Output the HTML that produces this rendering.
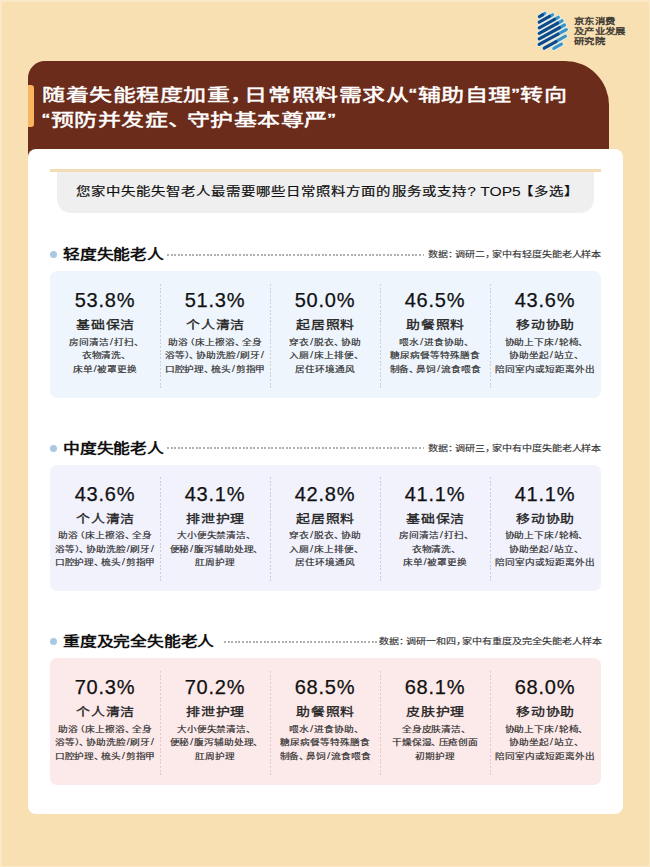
<!DOCTYPE html>
<html lang="zh-CN"><head><meta charset="utf-8"><style>
*{margin:0;padding:0;box-sizing:border-box}
html,body{width:650px;height:867px;overflow:hidden}
body{background:#F8E0B3;font-family:"Liberation Sans",sans-serif;position:relative;color:#222}
.logo{position:absolute;left:536px;top:10px;width:34px;height:42px}
.logo svg{display:block}
.logotxt{position:absolute;left:574px;top:16.5px;font-size:8px;line-height:10.4px;letter-spacing:-0.1px;color:#3a3530;font-weight:normal;white-space:nowrap;transform:scaleX(1.3);transform-origin:0 0;-webkit-text-stroke:0.35px #3a3530}
.hdr{position:absolute;left:28px;top:60.5px;width:581px;height:110px;background:#6B2C1B;border-radius:17px 44px 0 0}
.bar{position:absolute;left:28px;top:85px;width:5.6px;height:42.4px;background:#F9B462;border-radius:0 3px 3px 0}
.title{position:absolute;left:42px;top:83px;color:#fff;font-size:17.3px;line-height:25px;font-weight:normal;white-space:nowrap;transform:scaleX(1.33);transform-origin:0 0;letter-spacing:0.68px;-webkit-text-stroke:0.45px #fff}
.card{position:absolute;left:28px;top:149px;width:595px;height:665px;background:#fff;border-radius:8px}
.qline{position:absolute;left:50px;top:169px;width:551px;height:3px;background:#F3DCB4}
.qbox{position:absolute;left:57px;top:172px;width:537px;height:41px;background:#EFEFEF;border-radius:0 0 14px 14px}
.qtxt{position:absolute;left:76px;top:183.5px;font-size:12px;line-height:16px;color:#111;white-space:nowrap;transform:scaleX(1.2);transform-origin:0 0;letter-spacing:0.52px;font-weight:normal;-webkit-text-stroke:0.2px #111}
.sec{position:absolute;left:0;width:650px;height:200px}
.dot{position:absolute;left:50px;top:251px;width:7px;height:7px;border-radius:50%;background:#A9C9E2}
.stitle{position:absolute;left:63px;top:244px;font-size:14px;line-height:20px;font-weight:bold;color:#111;white-space:nowrap;transform:scaleX(1.2);transform-origin:0 0}
.dots{position:absolute;left:167px;right:226px;top:253.5px;border-top:1px dashed #C9C9C9}
.pink .dots{left:224px;right:269px}
.ssrc{position:absolute;right:48.5px;top:248px;font-size:8.4px;line-height:12px;color:#333;white-space:nowrap;transform:scaleX(1.2);transform-origin:100% 0;letter-spacing:0.3px;-webkit-text-stroke:0.15px #333}
.panel{position:absolute;left:50px;top:271.3px;width:551px;height:126.4px;border-radius:7px}
.blue .panel{background:#EFF5FC}
.lav .panel{background:#F2F2FD}
.pink .panel{background:#FCE9E9}
.div{position:absolute;top:12.5px;height:104px;width:1px;border-left:0}
.pink .div{border-left-color:#E9C3C3}
.lav .div{border-left-color:#CACAE0}
.col{position:absolute;top:0;width:110px;height:124px;text-align:center}
.c0{left:0}.c1{left:110px}.c2{left:220px}.c3{left:330px}.c4{left:440px}
.pct{position:absolute;left:0;right:0;top:17px;font-size:20px;line-height:24px;color:#111;letter-spacing:0.8px;-webkit-text-stroke:0.25px #111}
.lab{position:absolute;left:0;right:0;top:46px;font-size:11.4px;line-height:16px;font-weight:normal;color:#222;transform:scaleX(1.22);letter-spacing:1px;padding-left:1px;-webkit-text-stroke:0.3px #222}
.desc{position:absolute;left:-5px;right:-5px;top:64.5px;font-size:7.8px;line-height:13.5px;color:#303030;white-space:nowrap;transform:scaleX(1.24);font-weight:normal;-webkit-text-stroke:0.18px #303030}
.tp{letter-spacing:0;font-size:13px;font-weight:normal;margin-left:0.5px;-webkit-text-stroke:0}
.dots{border:0;height:2px;background:repeating-linear-gradient(90deg,#B0B0B0 0 2px,transparent 2px 3.6px)}
.div{background:repeating-linear-gradient(180deg,#C9D0DA 0 2px,transparent 2px 3.65px)}
.lav .div{background:repeating-linear-gradient(180deg,#CACAE0 0 2px,transparent 2px 3.65px)}
.pink .div{background:repeating-linear-gradient(180deg,#EBC5C5 0 2px,transparent 2px 3.65px)}
.sl{padding:0 0.5px;-webkit-text-stroke:0;font-size:9.5px;font-weight:normal;line-height:0}
.pl{margin-left:-0.3em}
.pr{margin-right:-0.3em}
.dl{height:13.5px}
.cm{margin-right:-0.4em}
.cm2{margin-right:-0.22em}
.lb{margin-left:-0.15em}
.pr2{margin-right:-0.3em}
.pr3{margin-right:-0.1em}
.edge{position:absolute;left:0;top:0;width:650px;height:867px;box-shadow:inset 2px 2px 0 #FAE8C6,inset -1px -1px 0 #FAE8C6}

</style></head><body>
<div class="edge"></div><div class="logo"><svg width="34" height="42" viewBox="536 10 34 42" stroke-linecap="round" fill="none">
<g stroke="#DDF3F8" stroke-width="4.6"><line x1="539.4" y1="16.6" x2="544.8" y2="13.4"/><line x1="539.2" y1="22.2" x2="552.5" y2="14.8"/><line x1="539.2" y1="27.8" x2="558.3" y2="17.3"/><line x1="539.2" y1="33.3" x2="562" y2="20.8"/><line x1="539.2" y1="38.8" x2="564.5" y2="25"/><line x1="539.2" y1="44.4" x2="566.3" y2="29.6"/><line x1="544.2" y1="48.2" x2="565.4" y2="36.2"/><line x1="553.8" y1="48.4" x2="561.4" y2="44.2"/></g>
<g stroke="#3C93C4" stroke-width="3.2"><line x1="542.5" y1="14.76" x2="544.8" y2="13.4"/><line x1="549.5" y1="16.47" x2="552.5" y2="14.8"/><line x1="554.5" y1="19.39" x2="558.3" y2="17.3"/><line x1="557.5" y1="23.27" x2="562" y2="20.8"/><line x1="559.5" y1="27.73" x2="564.5" y2="25"/><line x1="558" y1="34.13" x2="566.3" y2="29.6"/><line x1="556" y1="41.52" x2="565.4" y2="36.2"/><line x1="553.8" y1="48.4" x2="561.4" y2="44.2"/></g>
<g stroke="#0F4A88" stroke-width="3.2"><line x1="539.4" y1="16.6" x2="542.5" y2="14.76"/><line x1="539.2" y1="22.2" x2="549.5" y2="16.47"/><line x1="539.2" y1="27.8" x2="554.5" y2="19.39"/><line x1="539.2" y1="33.3" x2="557.5" y2="23.27"/><line x1="539.2" y1="38.8" x2="559.5" y2="27.73"/><line x1="539.2" y1="44.4" x2="558" y2="34.13"/><line x1="544.2" y1="48.2" x2="556" y2="41.52"/></g>
</svg></div>
<div class="logotxt"><div>京东消费</div><div>及产业发展</div><div>研究院</div></div>
<div class="hdr"></div>
<div class="bar"></div>
<div class="title"><div class="t1">随着失能程度加重<span class="cm">，</span>日常照料需求从“辅助自理”转向</div><div class="t2">“预防并发症<span class="cm2">、</span>守护基本尊严”</div></div>
<div class="card"></div>
<div class="qline"></div>
<div class="qbox"></div><div class="qtxt">您家中失能失智老人最需要哪些日常照料方面的服务或支持<span class="tp">? TOP5</span><span class="lb">【</span>多选】</div>
<div class="sec blue" style="top:0px">
  <div class="dot"></div><div class="stitle">轻度失能老人</div><div class="dots"></div><div class="ssrc">数据<span class="pr2">：</span>调研二<span class="pr2">，</span>家中有轻度失能老人样本</div>
  <div class="panel"><div class="div" style="left:110px"></div><div class="div" style="left:220px"></div><div class="div" style="left:330px"></div><div class="div" style="left:440px"></div><div class="col c0"><div class="pct">53.8%</div><div class="lab">基础保洁</div><div class="desc"><div class="dl">房间清洁<span class="sl">/</span>打扫<span class="pr">、</span></div><div class="dl">衣物清洗<span class="pr">、</span></div><div class="dl">床单<span class="sl">/</span>被罩更换</div></div></div><div class="col c1"><div class="pct">51.3%</div><div class="lab">个人清洁</div><div class="desc"><div class="dl">助浴<span class="pl">（</span>床上擦浴<span class="pr">、</span>全身</div><div class="dl">浴等<span class="pr3">）</span><span class="pr">、</span>协助洗脸<span class="sl">/</span>刷牙<span class="sl">/</span></div><div class="dl">口腔护理<span class="pr">、</span>梳头<span class="sl">/</span>剪指甲</div></div></div><div class="col c2"><div class="pct">50.0%</div><div class="lab">起居照料</div><div class="desc"><div class="dl">穿衣<span class="sl">/</span>脱衣<span class="pr">、</span>协助</div><div class="dl">入厕<span class="sl">/</span>床上排便<span class="pr">、</span></div><div class="dl">居住环境通风</div></div></div><div class="col c3"><div class="pct">46.5%</div><div class="lab">助餐照料</div><div class="desc"><div class="dl">喂水<span class="sl">/</span>进食协助<span class="pr">、</span></div><div class="dl">糖尿病餐等特殊膳食</div><div class="dl">制备<span class="pr">、</span>鼻饲<span class="sl">/</span>流食喂食</div></div></div><div class="col c4"><div class="pct">43.6%</div><div class="lab">移动协助</div><div class="desc"><div class="dl">协助上下床<span class="sl">/</span>轮椅<span class="pr">、</span></div><div class="dl">协助坐起<span class="sl">/</span>站立<span class="pr">、</span></div><div class="dl">陪同室内或短距离外出</div></div></div></div>
</div><div class="sec lav" style="top:193.5px">
  <div class="dot"></div><div class="stitle">中度失能老人</div><div class="dots"></div><div class="ssrc">数据<span class="pr2">：</span>调研三<span class="pr2">，</span>家中有中度失能老人样本</div>
  <div class="panel"><div class="div" style="left:110px"></div><div class="div" style="left:220px"></div><div class="div" style="left:330px"></div><div class="div" style="left:440px"></div><div class="col c0"><div class="pct">43.6%</div><div class="lab">个人清洁</div><div class="desc"><div class="dl">助浴<span class="pl">（</span>床上擦浴<span class="pr">、</span>全身</div><div class="dl">浴等<span class="pr3">）</span><span class="pr">、</span>协助洗脸<span class="sl">/</span>刷牙<span class="sl">/</span></div><div class="dl">口腔护理<span class="pr">、</span>梳头<span class="sl">/</span>剪指甲</div></div></div><div class="col c1"><div class="pct">43.1%</div><div class="lab">排泄护理</div><div class="desc"><div class="dl">大小便失禁清洁<span class="pr">、</span></div><div class="dl">便秘<span class="sl">/</span>腹泻辅助处理<span class="pr">、</span></div><div class="dl">肛周护理</div></div></div><div class="col c2"><div class="pct">42.8%</div><div class="lab">起居照料</div><div class="desc"><div class="dl">穿衣<span class="sl">/</span>脱衣<span class="pr">、</span>协助</div><div class="dl">入厕<span class="sl">/</span>床上排便<span class="pr">、</span></div><div class="dl">居住环境通风</div></div></div><div class="col c3"><div class="pct">41.1%</div><div class="lab">基础保洁</div><div class="desc"><div class="dl">房间清洁<span class="sl">/</span>打扫<span class="pr">、</span></div><div class="dl">衣物清洗<span class="pr">、</span></div><div class="dl">床单<span class="sl">/</span>被罩更换</div></div></div><div class="col c4"><div class="pct">41.1%</div><div class="lab">移动协助</div><div class="desc"><div class="dl">协助上下床<span class="sl">/</span>轮椅<span class="pr">、</span></div><div class="dl">协助坐起<span class="sl">/</span>站立<span class="pr">、</span></div><div class="dl">陪同室内或短距离外出</div></div></div></div>
</div><div class="sec pink" style="top:387px">
  <div class="dot"></div><div class="stitle">重度及完全失能老人</div><div class="dots"></div><div class="ssrc">数据<span class="pr2">：</span>调研一和四<span class="pr2">，</span>家中有重度及完全失能老人样本</div>
  <div class="panel"><div class="div" style="left:110px"></div><div class="div" style="left:220px"></div><div class="div" style="left:330px"></div><div class="div" style="left:440px"></div><div class="col c0"><div class="pct">70.3%</div><div class="lab">个人清洁</div><div class="desc"><div class="dl">助浴<span class="pl">（</span>床上擦浴<span class="pr">、</span>全身</div><div class="dl">浴等<span class="pr3">）</span><span class="pr">、</span>协助洗脸<span class="sl">/</span>刷牙<span class="sl">/</span></div><div class="dl">口腔护理<span class="pr">、</span>梳头<span class="sl">/</span>剪指甲</div></div></div><div class="col c1"><div class="pct">70.2%</div><div class="lab">排泄护理</div><div class="desc"><div class="dl">大小便失禁清洁<span class="pr">、</span></div><div class="dl">便秘<span class="sl">/</span>腹泻辅助处理<span class="pr">、</span></div><div class="dl">肛周护理</div></div></div><div class="col c2"><div class="pct">68.5%</div><div class="lab">助餐照料</div><div class="desc"><div class="dl">喂水<span class="sl">/</span>进食协助<span class="pr">、</span></div><div class="dl">糖尿病餐等特殊膳食</div><div class="dl">制备<span class="pr">、</span>鼻饲<span class="sl">/</span>流食喂食</div></div></div><div class="col c3"><div class="pct">68.1%</div><div class="lab">皮肤护理</div><div class="desc"><div class="dl">全身皮肤清洁<span class="pr">、</span></div><div class="dl">干燥保湿<span class="pr">、</span>压疮创面</div><div class="dl">初期护理</div></div></div><div class="col c4"><div class="pct">68.0%</div><div class="lab">移动协助</div><div class="desc"><div class="dl">协助上下床<span class="sl">/</span>轮椅<span class="pr">、</span></div><div class="dl">协助坐起<span class="sl">/</span>站立<span class="pr">、</span></div><div class="dl">陪同室内或短距离外出</div></div></div></div>
</div>
</body></html>
